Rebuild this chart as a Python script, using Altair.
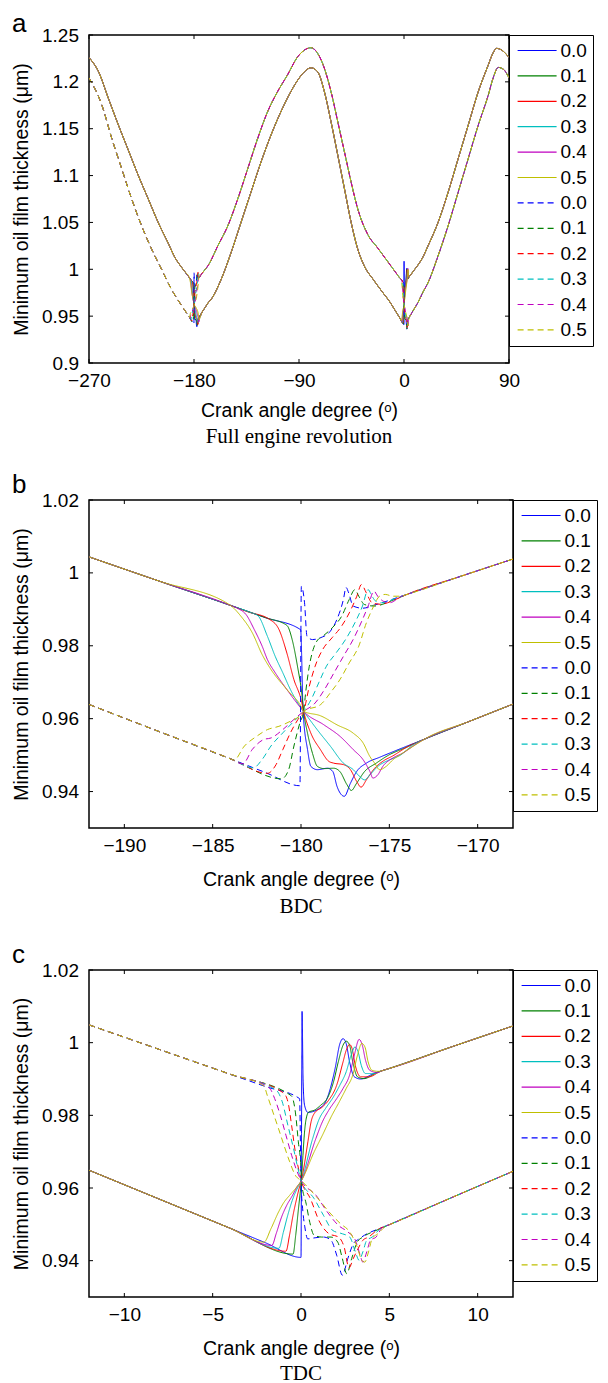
import altair as alt
import pandas as pd

SANS = "Liberation Sans"
SERIF = "Liberation Serif"

# ---------------- series identity ----------------
KEYS = ["S0.0", "S0.1", "S0.2", "S0.3", "S0.4", "S0.5",
        "D0.0", "D0.1", "D0.2", "D0.3", "D0.4", "D0.5"]
COLORS = ["#0000FF", "#008000", "#FF0000", "#00BFBF", "#BF00BF", "#BFBF00"] * 2
DASHES = [[1, 0]] * 6 + [[6, 4]] * 6

# ---------------- BDC (panel b) ----------------
BDC_SOLID_LEFT_X = [-192, -188, -184]
BDC_SOLID_LEFT_Y = [1.0044, 0.9977, 0.9911]
BDC_SOLID_RIGHT_X = [-173, -170.5, -168]
BDC_SOLID_RIGHT_Y = [0.9544, 0.9592, 0.9640]
BDC_DASH_LEFT_X = [-192, -188, -184]
BDC_DASH_LEFT_Y = [0.9639, 0.9564, 0.9490]
BDC_DASH_RIGHT_X = [-174, -171, -168]
BDC_DASH_RIGHT_Y = [0.9941, 0.9990, 1.0038]

BDC_S0_X = [-182, -180.02, -179.88, -179.63, -179.44, -179.07, -178.5, -178.2, -177.96, -177.55, -177.2, -176.85, -176.3, -175.55, -174.5]
BDC_S0_Y = [0.9877, 0.9844, 0.962, 0.9515, 0.9469, 0.946, 0.9464, 0.9455, 0.9414, 0.9387, 0.9423, 0.9455, 0.9478, 0.9494, 0.9515]
BDC_S1_X = [-182, -180.8, -180.5, -180.2, -179.96, -179.85, -179.63, -179.35, -179.07, -178.7, -178.15, -177.8, -177.4, -177.15, -176.85, -176.4, -175.74, -175, -174.2]
BDC_S1_Y = [0.9877, 0.9856, 0.9817, 0.9744, 0.9671, 0.962, 0.956, 0.9505, 0.9469, 0.9463, 0.9464, 0.9455, 0.9419, 0.9403, 0.9423, 0.9455, 0.9478, 0.9501, 0.9518]
BDC_S2_X = [-183, -181.8, -181.25, -180.8, -180.4, -180, -179.85, -179.44, -178.9, -178.43, -178.15, -177.6, -177.2, -176.85, -176.6, -176.3, -175.83, -175.37, -174.8, -174]
BDC_S2_Y = [0.9893, 0.9873, 0.9845, 0.978, 0.9707, 0.9653, 0.962, 0.956, 0.9515, 0.9483, 0.9478, 0.9474, 0.946, 0.9428, 0.9412, 0.9432, 0.9464, 0.9483, 0.9498, 0.9522]
BDC_S3_X = [-182.9, -182.43, -181.9, -181.46, -181.03, -180.6, -180.06, -179.85, -179.07, -178.33, -177.6, -177.04, -176.67, -176.4, -176.1, -175.65, -175, -174.44, -173.6]
BDC_S3_Y = [0.9892, 0.9882, 0.9826, 0.9771, 0.9726, 0.968, 0.9634, 0.962, 0.9569, 0.9524, 0.9478, 0.946, 0.9441, 0.9432, 0.9446, 0.9469, 0.9487, 0.9498, 0.953]
BDC_S4_X = [-183.6, -183.1, -182.65, -182.2, -181.9, -181.46, -180.8, -180.17, -179.85, -178.7, -177.78, -177.04, -176.48, -176.1, -175.93, -175.65, -175.37, -174.8, -174.26, -173.4]
BDC_S4_Y = [0.9903, 0.9885, 0.9845, 0.9799, 0.9762, 0.9726, 0.968, 0.9639, 0.962, 0.9583, 0.9551, 0.9515, 0.9487, 0.9455, 0.9437, 0.9446, 0.9469, 0.9492, 0.9505, 0.9533]
BDC_S5_X = [-183.4, -182.75, -182.2, -181.7, -180.8, -180, -179.85, -178.9, -177.96, -177.04, -176.48, -176.1, -175.83, -175.55, -175.18, -174.8, -174.26, -173.2]
BDC_S5_Y = [0.9881, 0.9835, 0.9776, 0.9735, 0.968, 0.9634, 0.962, 0.9608, 0.9583, 0.956, 0.9533, 0.9496, 0.9478, 0.946, 0.9469, 0.9487, 0.9505, 0.9538]

BDC_D0_X = [-182, -180.06, -179.98, -179.8, -179.66, -179.35, -178.9, -178.34, -177.97, -177.6, -177.45, -177.3, -177.05, -176.5, -175.9]
BDC_D0_Y = [0.9452, 0.9416, 0.9963, 0.9918, 0.9826, 0.9817, 0.9822, 0.984, 0.9872, 0.9927, 0.996, 0.9945, 0.9909, 0.9903, 0.9911]
BDC_D1_X = [-181.1, -180.7, -180.4, -180.06, -179.85, -179.74, -179.53, -179.31, -179.1, -178.77, -178.24, -177.7, -177.27, -176.95, -176.73, -176.4, -175.87, -174.8]
BDC_D1_Y = [0.9435, 0.946, 0.9525, 0.9589, 0.962, 0.967, 0.9744, 0.979, 0.9813, 0.9826, 0.9849, 0.9881, 0.9927, 0.9954, 0.9936, 0.9913, 0.9909, 0.9925]
BDC_D2_X = [-181.9, -181.46, -181.03, -180.6, -180.17, -179.85, -179.53, -179.2, -178.77, -178.24, -177.7, -177.27, -176.84, -176.58, -176.3, -175.98, -175.5, -174.6]
BDC_D2_Y = [0.945, 0.947, 0.9515, 0.9561, 0.9598, 0.962, 0.9689, 0.9744, 0.979, 0.9822, 0.9854, 0.989, 0.9936, 0.9968, 0.9945, 0.9918, 0.9914, 0.9928]
BDC_D3_X = [-182.7, -182.2, -181.7, -181.03, -180.4, -179.85, -179.42, -179.0, -178.56, -178.02, -177.48, -176.95, -176.52, -176.2, -175.98, -175.76, -175.44, -174.5]
BDC_D3_Y = [0.9465, 0.9488, 0.9525, 0.9561, 0.9593, 0.962, 0.9653, 0.9698, 0.9744, 0.978, 0.9817, 0.9863, 0.9909, 0.9954, 0.9936, 0.9922, 0.9918, 0.9933]
BDC_D4_X = [-183.3, -182.75, -182.1, -181.7, -181.03, -180.4, -179.85, -179.2, -178.67, -178.13, -177.6, -177.05, -176.52, -176.2, -175.87, -175.66, -175.33, -175.0, -174.3]
BDC_D4_Y = [0.9476, 0.9516, 0.9543, 0.9547, 0.957, 0.9598, 0.962, 0.9643, 0.968, 0.9726, 0.9771, 0.9817, 0.9872, 0.9909, 0.995, 0.9936, 0.9922, 0.9918, 0.9936]
BDC_D5_X = [-183.8, -183.2, -182.5, -181.9, -181.25, -180.6, -180.0, -179.85, -178.88, -178.34, -177.8, -177.27, -176.73, -176.3, -175.98, -175.55, -175.23, -174.8, -174.37]
BDC_D5_Y = [0.9486, 0.9525, 0.9552, 0.957, 0.9579, 0.9593, 0.9611, 0.962, 0.9639, 0.9671, 0.9707, 0.9753, 0.9799, 0.9863, 0.9899, 0.9936, 0.9941, 0.9936, 0.9936]

# ---------------- TDC (panel c) ----------------
TDC_SOLID_LEFT_X = [-12, -8, -4]
TDC_SOLID_LEFT_Y = [0.9649, 0.9569, 0.9489]
TDC_SOLID_RIGHT_X = [5, 8.5, 12]
TDC_SOLID_RIGHT_Y = [0.9929, 0.9988, 1.0046]
TDC_DASH_LEFT_X = [-12, -8, -4]
TDC_DASH_LEFT_Y = [1.0049, 0.9981, 0.9913]
TDC_DASH_RIGHT_X = [5, 8.5, 12]
TDC_DASH_RIGHT_Y = [0.9499, 0.9573, 0.9646]

TDC_S0_X = [-2, 0, 0.03, 0.06, 0.12, 0.2, 0.39, 0.66, 1.03, 1.39, 1.66, 1.93, 2.2, 2.38, 2.56, 2.75, 3.02, 3.38, 4.11]
TDC_S0_Y = [0.9449, 0.9409, 0.975, 1.0086, 0.9892, 0.9828, 0.9808, 0.981, 0.9819, 0.9837, 0.9874, 0.9929, 0.9997, 1.0011, 0.9997, 0.9947, 0.9906, 0.99, 0.9915]
TDC_S1_X = [-0.45, -0.3, -0.15, -0.05, 0.02, 0.11, 0.2, 0.29, 0.44, 0.75, 1.12, 1.48, 1.84, 2.11, 2.38, 2.56, 2.75, 2.93, 3.2, 3.56, 4.3]
TDC_S1_Y = [0.9418, 0.947, 0.954, 0.9585, 0.962, 0.969, 0.9754, 0.979, 0.9809, 0.9814, 0.9828, 0.9846, 0.9892, 0.9947, 0.9993, 1.0004, 0.9993, 0.9947, 0.9906, 0.9901, 0.9918]
TDC_S2_X = [-0.85, -0.65, -0.45, -0.25, -0.1, 0.02, 0.39, 0.57, 0.75, 1.21, 1.57, 2.02, 2.38, 2.56, 2.75, 2.89, 3.07, 3.38, 3.84, 4.5]
TDC_S2_Y = [0.9426, 0.947, 0.9525, 0.957, 0.96, 0.962, 0.9727, 0.9782, 0.9805, 0.9823, 0.9842, 0.9883, 0.9947, 0.9979, 0.9995, 0.9984, 0.9938, 0.9906, 0.9906, 0.9921]
TDC_S3_X = [-1.25, -1.0, -0.75, -0.5, -0.25, 0.02, 0.66, 1.03, 1.39, 1.84, 2.2, 2.56, 2.84, 3.05, 3.23, 3.41, 3.65, 4.11, 4.6]
TDC_S3_Y = [0.9434, 0.9478, 0.9525, 0.9565, 0.9595, 0.962, 0.9736, 0.979, 0.9819, 0.9851, 0.9883, 0.992, 0.9966, 0.9988, 0.9975, 0.9938, 0.9915, 0.9915, 0.9923]
TDC_S4_X = [-1.65, -1.4, -1.1, -0.8, -0.5, -0.2, 0.02, 0.84, 1.21, 1.57, 2.02, 2.38, 2.75, 3.02, 3.29, 3.47, 3.65, 3.89, 4.29, 4.7]
TDC_S4_Y = [0.9442, 0.9475, 0.952, 0.9553, 0.9578, 0.9605, 0.962, 0.9736, 0.9782, 0.9814, 0.9846, 0.9874, 0.9911, 0.9966, 1.0009, 0.9993, 0.9952, 0.9924, 0.9918, 0.9925]
TDC_S5_X = [-2.1, -1.7, -1.27, -0.96, -0.64, -0.32, 0.02, 0.75, 1.21, 1.75, 2.11, 2.56, 2.93, 3.2, 3.44, 3.62, 3.8, 4.02, 4.38, 4.8]
TDC_S5_Y = [0.9451, 0.9488, 0.9534, 0.9561, 0.958, 0.9598, 0.962, 0.97, 0.9745, 0.98, 0.9832, 0.9874, 0.9911, 0.9966, 0.9998, 0.9988, 0.9947, 0.9924, 0.9921, 0.9926]

TDC_D0_X = [-2, -0.08, 0.0, 0.11, 0.21, 0.38, 0.8, 1.27, 1.7, 2.02, 2.34, 2.65, 2.97, 3.29]
TDC_D0_Y = [0.9879, 0.9846, 0.962, 0.9534, 0.9495, 0.946, 0.9463, 0.9465, 0.9456, 0.9415, 0.936, 0.9406, 0.9447, 0.946]
TDC_D1_X = [-0.55, -0.32, -0.15, 0.0, 0.02, 0.3, 0.5, 0.74, 1.17, 1.7, 2.08, 2.34, 2.59, 2.87, 3.18, 3.5, 4.2]
TDC_D1_Y = [0.9854, 0.9809, 0.9727, 0.9653, 0.962, 0.9555, 0.9505, 0.947, 0.9465, 0.9465, 0.9451, 0.9406, 0.9364, 0.9406, 0.9451, 0.9465, 0.9482]
TDC_D2_X = [-1.0, -0.74, -0.53, -0.32, -0.1, 0.02, 0.53, 1.06, 1.59, 2.12, 2.44, 2.72, 2.95, 3.18, 3.5, 3.82, 4.4]
TDC_D2_Y = [0.9862, 0.9837, 0.9772, 0.9699, 0.9644, 0.962, 0.9571, 0.9506, 0.9474, 0.9465, 0.9438, 0.938, 0.9405, 0.9428, 0.9456, 0.9465, 0.9487]
TDC_D3_X = [-1.4, -1.06, -0.74, -0.42, -0.17, 0.02, 0.74, 1.27, 1.8, 2.34, 2.76, 3.08, 3.29, 3.5, 3.72, 4.03, 4.5]
TDC_D3_Y = [0.9869, 0.9837, 0.9772, 0.9708, 0.9653, 0.962, 0.9571, 0.9525, 0.9483, 0.9474, 0.9465, 0.9424, 0.9401, 0.9424, 0.9456, 0.9465, 0.9489]
TDC_D4_X = [-1.8, -1.49, -1.17, -0.85, -0.53, -0.21, 0.02, 0.85, 1.49, 2.12, 2.65, 3.08, 3.35, 3.5, 3.72, 3.93, 4.25, 4.6]
TDC_D4_Y = [0.9876, 0.9846, 0.98, 0.9745, 0.969, 0.9644, 0.962, 0.958, 0.9534, 0.9497, 0.9479, 0.9456, 0.9415, 0.9396, 0.9424, 0.9456, 0.9465, 0.9491]
TDC_D5_X = [-2.1, -1.91, -1.59, -1.27, -0.96, -0.64, -0.32, 0.02, 0.96, 1.59, 2.23, 2.76, 3.18, 3.44, 3.61, 3.82, 4.03, 4.35, 4.8]
TDC_D5_Y = [0.9881, 0.9855, 0.9809, 0.9763, 0.9717, 0.9672, 0.9635, 0.962, 0.9571, 0.9534, 0.9502, 0.9479, 0.9438, 0.9401, 0.9396, 0.9424, 0.9461, 0.9474, 0.9495]

# ---------------- full revolution (panel a), outside the BDC/TDC windows ----------------
FULL_SOLID_SEG1_X = [-270, -261.8, -253.3, -244.7, -236.2, -227.7, -219.2, -210.7, -202, -196]
FULL_SOLID_SEG1_Y = [1.226, 1.2107, 1.1821, 1.1536, 1.1268, 1.1, 1.075, 1.05, 1.0275, 1.0118]
FULL_SOLID_SEG2_X = [-165, -156.7, -148.2, -139.7, -131.2, -122.6, -114.1, -105.6, -97.1, -91.1, -85.4, -79.7, -74, -68.2, -62.5, -56.7, -51, -45.3, -39.6, -34, -26, -19]
FULL_SOLID_SEG2_Y = [0.9685, 0.9893, 1.0179, 1.05, 1.0821, 1.1143, 1.1429, 1.1679, 1.1893, 1.2018, 1.2107, 1.215, 1.2107, 1.1893, 1.1571, 1.1214, 1.0857, 1.05, 1.0214, 1.0035, 0.9885, 0.9765]
FULL_SOLID_SEG3_X = [16, 20.6, 29.2, 37.8, 46.4, 55, 63.6, 72.2, 76, 79.4, 83.7, 90]
FULL_SOLID_SEG3_Y = [1.0125, 1.025, 1.05, 1.0821, 1.1179, 1.1536, 1.1893, 1.2179, 1.23, 1.2357, 1.2339, 1.226]
FULL_DASH_SEG1_X = [-270, -258.9, -250.4, -241.9, -233.4, -224.9, -216.3, -207.8, -199.3]
FULL_DASH_SEG1_Y = [1.2043, 1.175, 1.1393, 1.1071, 1.075, 1.0464, 1.0214, 1.0, 0.9786]
FULL_DASH_SEG2_X = [-159.6, -151, -142.5, -134, -125.5, -117, -108.5, -100, -91.1, -85.4, -79.7, -74, -68.2, -62.5, -56.7, -51, -45.3, -39.6, -31, -22.4]
FULL_DASH_SEG2_Y = [1.025, 1.0464, 1.075, 1.1071, 1.1393, 1.1679, 1.1893, 1.2071, 1.2268, 1.2339, 1.2364, 1.2304, 1.2143, 1.1893, 1.1571, 1.125, 1.0929, 1.0643, 1.037, 1.0225]
FULL_DASH_SEG3_X = [16, 20.6, 29.2, 37.8, 46.4, 55, 63.6, 72.2, 76.5, 80.8, 85.1, 90]
FULL_DASH_SEG3_Y = [0.975, 0.9857, 1.0143, 1.0464, 1.0821, 1.1179, 1.1536, 1.1857, 1.2045, 1.2154, 1.2135, 1.2043]

# ---------------- axes ----------------
A_XTICKS = [-270, -180, -90, 0, 90]
A_YTICKS = [0.9, 0.95, 1.0, 1.05, 1.1, 1.15, 1.2, 1.25]
B_XTICKS = [-190, -185, -180, -175, -170]
C_XTICKS = [-10, -5, 0, 5, 10]
BC_YTICKS = [0.94, 0.96, 0.98, 1.0, 1.02]

X_TITLE = "Crank angle degree (\u1d52)"
Y_TITLE = "Minimum oil film thickness (\u03bcm)"

BDC_S = [(BDC_S0_X, BDC_S0_Y), (BDC_S1_X, BDC_S1_Y), (BDC_S2_X, BDC_S2_Y),
         (BDC_S3_X, BDC_S3_Y), (BDC_S4_X, BDC_S4_Y), (BDC_S5_X, BDC_S5_Y)]
BDC_D = [(BDC_D0_X, BDC_D0_Y), (BDC_D1_X, BDC_D1_Y), (BDC_D2_X, BDC_D2_Y),
         (BDC_D3_X, BDC_D3_Y), (BDC_D4_X, BDC_D4_Y), (BDC_D5_X, BDC_D5_Y)]
TDC_S = [(TDC_S0_X, TDC_S0_Y), (TDC_S1_X, TDC_S1_Y), (TDC_S2_X, TDC_S2_Y),
         (TDC_S3_X, TDC_S3_Y), (TDC_S4_X, TDC_S4_Y), (TDC_S5_X, TDC_S5_Y)]
TDC_D = [(TDC_D0_X, TDC_D0_Y), (TDC_D1_X, TDC_D1_Y), (TDC_D2_X, TDC_D2_Y),
         (TDC_D3_X, TDC_D3_Y), (TDC_D4_X, TDC_D4_Y), (TDC_D5_X, TDC_D5_Y)]


def rows_for(key, xs, ys):
    return [{"k": key, "x": x, "y": y, "i": i} for i, (x, y) in enumerate(zip(xs, ys))]


def build_bdc():
    rows = []
    for j, (xs, ys) in enumerate(BDC_S):
        rows += rows_for(KEYS[j], BDC_SOLID_LEFT_X + xs + BDC_SOLID_RIGHT_X,
                         BDC_SOLID_LEFT_Y + ys + BDC_SOLID_RIGHT_Y)
    for j, (xs, ys) in enumerate(BDC_D):
        rows += rows_for(KEYS[6 + j], BDC_DASH_LEFT_X + xs + BDC_DASH_RIGHT_X,
                         BDC_DASH_LEFT_Y + ys + BDC_DASH_RIGHT_Y)
    return pd.DataFrame(rows)


def build_tdc():
    rows = []
    for j, (xs, ys) in enumerate(TDC_S):
        rows += rows_for(KEYS[j], TDC_SOLID_LEFT_X + xs + TDC_SOLID_RIGHT_X,
                         TDC_SOLID_LEFT_Y + ys + TDC_SOLID_RIGHT_Y)
    for j, (xs, ys) in enumerate(TDC_D):
        rows += rows_for(KEYS[6 + j], TDC_DASH_LEFT_X + xs + TDC_DASH_RIGHT_X,
                         TDC_DASH_LEFT_Y + ys + TDC_DASH_RIGHT_Y)
    return pd.DataFrame(rows)


def build_full():
    rows = []
    for j in range(6):
        bx, by = BDC_S[j]
        tx, ty = TDC_S[j]
        xs = (FULL_SOLID_SEG1_X + BDC_SOLID_LEFT_X + bx + BDC_SOLID_RIGHT_X + FULL_SOLID_SEG2_X
              + TDC_SOLID_LEFT_X + tx + TDC_SOLID_RIGHT_X + FULL_SOLID_SEG3_X)
        ys = (FULL_SOLID_SEG1_Y + BDC_SOLID_LEFT_Y + by + BDC_SOLID_RIGHT_Y + FULL_SOLID_SEG2_Y
              + TDC_SOLID_LEFT_Y + ty + TDC_SOLID_RIGHT_Y + FULL_SOLID_SEG3_Y)
        rows += rows_for(KEYS[j], xs, ys)
    for j in range(6):
        bx, by = BDC_D[j]
        tx, ty = TDC_D[j]
        xs = (FULL_DASH_SEG1_X + BDC_DASH_LEFT_X + bx + BDC_DASH_RIGHT_X + FULL_DASH_SEG2_X
              + TDC_DASH_LEFT_X + tx + TDC_DASH_RIGHT_X + FULL_DASH_SEG3_X)
        ys = (FULL_DASH_SEG1_Y + BDC_DASH_LEFT_Y + by + BDC_DASH_RIGHT_Y + FULL_DASH_SEG2_Y
              + TDC_DASH_LEFT_Y + ty + TDC_DASH_RIGHT_Y + FULL_DASH_SEG3_Y)
        rows += rows_for(KEYS[6 + j], xs, ys)
    return pd.DataFrame(rows)


TK = 4  # inward tick length


def panel(df, xdom, ydom, xticks, yticks, W, H, letter, letter_dx, letter_y, subtitle,
          xtp, sub_off):
    xs = alt.Scale(domain=xdom, nice=False, zero=False)
    ys = alt.Scale(domain=ydom, nice=False, zero=False)
    xax = alt.Axis(values=xticks, title=X_TITLE, labelFlush=False, format="d",
                   labelPadding=8, titlePadding=xtp)
    yax = alt.Axis(values=yticks, title=Y_TITLE, format="~g",
                   labelPadding=10.5, titlePadding=10.5)
    leg = alt.Legend(title=None, orient="right", offset=0, padding=6,
                     strokeColor="black", symbolType="M-1.415,0H6.585", symbolSize=95,
                     symbolStrokeWidth=1.2, symbolOffset=0, labelOffset=26.5,
                     labelFont=SANS, labelFontSize=19, labelColor="black",
                     rowPadding=5.4, labelExpr="substring(datum.label, 1)")
    lines = alt.Chart(df).mark_line(strokeWidth=1, clip=True, interpolate="monotone").encode(
        x=alt.X("x:Q", scale=xs, axis=xax),
        y=alt.Y("y:Q", scale=ys, axis=yax),
        color=alt.Color("k:N", scale=alt.Scale(domain=KEYS, range=COLORS), legend=leg),
        strokeDash=alt.StrokeDash("k:N", scale=alt.Scale(domain=KEYS, range=DASHES), legend=leg),
        order=alt.Order("i:Q"),
    )
    xt = pd.DataFrame({"v": xticks})
    yt = pd.DataFrame({"v": yticks})
    tick_top = alt.Chart(xt).mark_rule(color="black", strokeWidth=1).encode(
        x=alt.X("v:Q", scale=xs, axis=xax), y=alt.value(0), y2=alt.value(TK))
    tick_bot = alt.Chart(xt).mark_rule(color="black", strokeWidth=1).encode(
        x=alt.X("v:Q", scale=xs, axis=xax), y=alt.value(H - TK), y2=alt.value(H))
    tick_left = alt.Chart(yt).mark_rule(color="black", strokeWidth=1).encode(
        y=alt.Y("v:Q", scale=ys, axis=yax), x=alt.value(0), x2=alt.value(TK))
    tick_right = alt.Chart(yt).mark_rule(color="black", strokeWidth=1).encode(
        y=alt.Y("v:Q", scale=ys, axis=yax), x=alt.value(W - TK), x2=alt.value(W))
    lab = alt.Chart(pd.DataFrame({"t": [letter]})).mark_text(
        font=SANS, fontSize=26, align="left", baseline="alphabetic", color="black"
    ).encode(text="t:N", x=alt.value(-letter_dx), y=alt.value(letter_y))
    return alt.layer(lines, tick_top, tick_bot, tick_left, tick_right, lab).properties(
        width=W, height=H,
        title=alt.TitleParams(subtitle, orient="bottom", font=SERIF, fontSize=21,
                              fontWeight="normal", color="black", anchor="middle",
                              frame="group", offset=sub_off),
    )


pa = panel(build_full(), [-270, 90], [0.9, 1.25], A_XTICKS, A_YTICKS, 420, 328, "a", 77, -3,
           "Full engine revolution", 11.5, 6)
pb = panel(build_bdc(), [-192, -168], [0.93, 1.02], B_XTICKS, BC_YTICKS, 424, 328, "b", 77, -7,
           "BDC", 15.5, 7)
pc = panel(build_tdc(), [-12, 12], [0.93, 1.02], C_XTICKS, BC_YTICKS, 424, 327, "c", 77, -7,
           "TDC", 15.2, 5)

chart = alt.concat(pa, pb, pc, columns=1, spacing=23).resolve_scale(
    color="independent", strokeDash="independent"
).resolve_legend(
    color="independent", strokeDash="independent"
).properties(
    padding={"left": 2, "top": 2, "right": 0, "bottom": 0}
).configure_view(
    stroke="black", strokeWidth=1.5
).configure_axis(
    grid=False, ticks=False, domain=False,
    labelFont=SANS, labelFontSize=19, labelColor="black",
    titleFont=SANS, titleFontSize=19.5, titleFontWeight="normal", titleColor="black",
)

chart.save("out.html", embed_options={"renderer": "svg", "actions": False})
